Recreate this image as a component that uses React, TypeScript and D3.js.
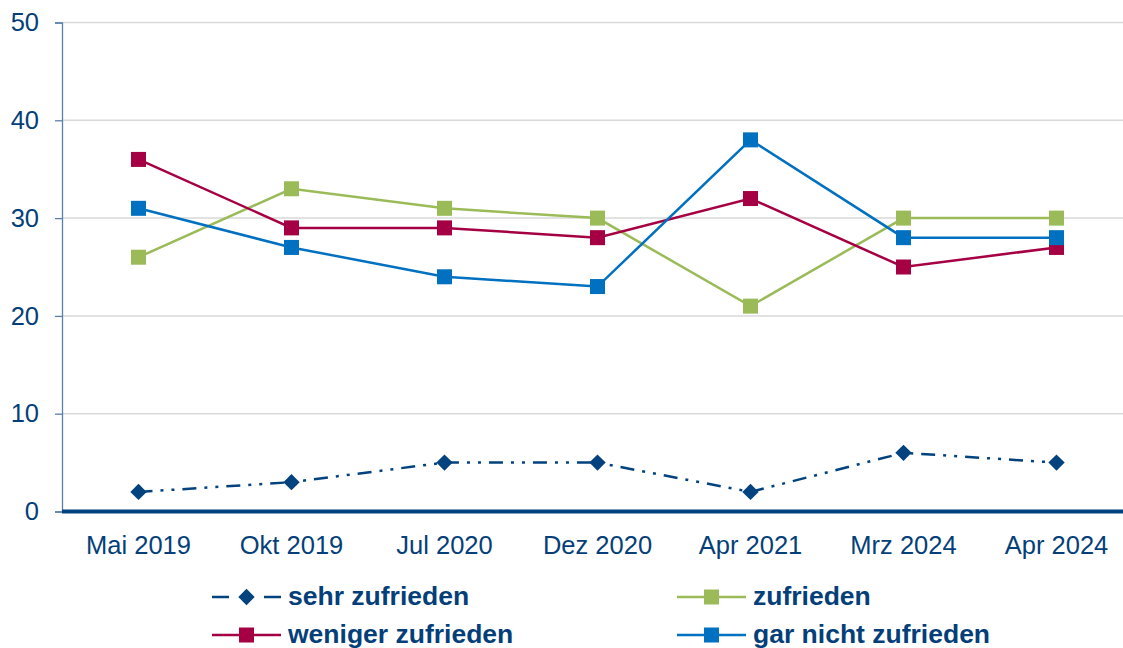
import React, { useEffect, useRef } from "react";
import * as d3 from "d3";

// categories and series
const categories = ["Mai 2019", "Okt 2019", "Jul 2020", "Dez 2020", "Apr 2021", "Mrz 2024", "Apr 2024"];
const sehrZufrieden = [2, 3, 5, 5, 2, 6, 5];
const zufrieden = [26, 33, 31, 30, 21, 30, 30];
const wenigerZufrieden = [36, 29, 29, 28, 32, 25, 27];
const garNichtZufrieden = [31, 27, 24, 23, 38, 28, 28];
const yTicks = [0, 10, 20, 30, 40, 50];

const series = [
  { name: "sehr zufrieden", values: sehrZufrieden, color: "#02427f", marker: "diamond", dash: "14,8,3,8,3,8" },
  { name: "zufrieden", values: zufrieden, color: "#9bbb59", marker: "square", dash: null },
  { name: "weniger zufrieden", values: wenigerZufrieden, color: "#a50044", marker: "square", dash: null },
  { name: "gar nicht zufrieden", values: garNichtZufrieden, color: "#0070c0", marker: "square", dash: null },
];

const App = () => {
  const svgRef = useRef<SVGSVGElement>(null);

  useEffect(() => {
    const width = 1123;
    const height = 648;
    const marginLeft = 62;
    const marginTop = 22.5;
    const plotBottom = 511.5;
    const font = "'Liberation Sans', Arial, sans-serif";
    const textColor = "#043f7a";

    const svg = d3.select(svgRef.current).attr("width", width).attr("height", height);
    svg.selectAll("*").remove();

    const x = d3.scaleBand<string>().domain(categories).range([marginLeft, marginLeft + 153 * 7]);
    const y = d3.scaleLinear().domain([0, 50]).range([plotBottom, marginTop]);
    const cx = (i: number) => (x(categories[i]) as number) + x.bandwidth() / 2;

    // gridlines
    svg
      .append("g")
      .selectAll("line")
      .data(yTicks.filter((t) => t > 0))
      .join("line")
      .attr("x1", marginLeft)
      .attr("x2", width)
      .attr("y1", (d) => y(d))
      .attr("y2", (d) => y(d))
      .attr("stroke", "#d9d9d9")
      .attr("stroke-width", 1.5);

    // y axis
    svg
      .append("g")
      .attr("transform", `translate(${marginLeft},0)`)
      .call(d3.axisLeft(y).tickValues(yTicks).tickSize(7).tickPadding(16))
      .call((g) => g.select(".domain").attr("stroke", "#5b7fab").attr("stroke-width", 1.3))
      .call((g) => g.selectAll(".tick line").attr("stroke", "#5b7fab").attr("stroke-width", 1.3))
      .call((g) =>
        g.selectAll(".tick text").attr("fill", textColor).style("font-family", font).style("font-size", "25.5px")
      );

    // x axis baseline and labels
    svg
      .append("g")
      .attr("transform", `translate(0,${plotBottom})`)
      .call(d3.axisBottom(x).tickSize(0).tickPadding(24))
      .call((g) => g.select(".domain").attr("stroke", "#02427f").attr("stroke-width", 4).attr("d", `M${marginLeft},0H${width}`))
      .call((g) =>
        g.selectAll(".tick text").attr("fill", textColor).style("font-family", font).style("font-size", "25.5px")
      );

    const line = d3
      .line<number>()
      .x((_, i) => cx(i))
      .y((d) => y(d));

    const drawMarker = (g: d3.Selection<any, any, any, any>, type: string, color: string, px: number, py: number) => {
      if (type === "diamond") {
        g.append("path")
          .attr("d", d3.symbol(d3.symbolDiamond2, 170)())
          .attr("transform", `translate(${px},${py})`)
          .attr("fill", color);
      } else {
        g.append("rect")
          .attr("x", px - 7.5)
          .attr("y", py - 7.5)
          .attr("width", 15)
          .attr("height", 15)
          .attr("fill", color);
      }
    };

    series.forEach((s) => {
      const g = svg.append("g");
      g.append("path")
        .datum(s.values)
        .attr("fill", "none")
        .attr("stroke", s.color)
        .attr("stroke-width", 2.5)
        .attr("stroke-dasharray", s.dash)
        .attr("d", line);
      s.values.forEach((v, i) => drawMarker(g, s.marker, s.color, cx(i), y(v)));
    });

    // legend
    const legendPos = [
      [212, 597],
      [677, 597],
      [212, 635],
      [677, 635],
    ];
    series.forEach((s, i) => {
      const [lx, ly] = legendPos[i];
      const g = svg.append("g");
      if (s.dash) {
        // dashed sample: two short dashes either side of the marker
        [[lx, lx + 17], [lx + 52, lx + 69]].forEach(([a, b]) =>
          g.append("line").attr("x1", a).attr("x2", b).attr("y1", ly).attr("y2", ly)
            .attr("stroke", s.color).attr("stroke-width", 2.5)
        );
      } else {
        g.append("line")
          .attr("x1", lx)
          .attr("x2", lx + 69)
          .attr("y1", ly)
          .attr("y2", ly)
          .attr("stroke", s.color)
          .attr("stroke-width", 2.5);
      }
      drawMarker(g, s.marker, s.color, lx + 34.5, ly);
      g.append("text")
        .attr("x", lx + 76)
        .attr("y", ly + 8)
        .attr("fill", textColor)
        .style("font-family", font)
        .style("font-size", "26.5px")
        .style("font-weight", "bold")
        .text(s.name);
    });
  }, []);

  return (
    <div style={{ position: "absolute", left: 0, top: 0 }}>
      <svg ref={svgRef} style={{ display: "block", background: "#fff" }}></svg>
    </div>
  );
};

export default App;
